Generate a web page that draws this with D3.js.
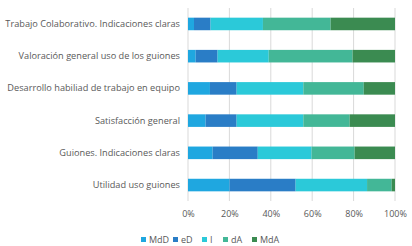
<!DOCTYPE html>
<html>
<head>
<meta charset="utf-8">
<script src="https://cdn.jsdelivr.net/npm/d3@7"></script>
<style>
  body { margin: 0; background: #fff; }
  text { font-family: "Open Sans", sans-serif; fill: #595959; }
</style>
</head>
<body>
<div id="chart"></div>
<script>
// categories, top to bottom
const categories = [
    "Trabajo Colaborativo. Indicaciones claras",
    "Valoración general uso de los guiones",
    "Desarrollo habiliad de trabajo en equipo",
    "Satisfacción general",
    "Guiones. Indicaciones claras",
    "Utilidad uso guiones"
];
const seriesNames = ["MdD", "eD", "I", "dA", "MdA"];
const seriesColors = ["#1fa7e0", "#2a7dc6", "#2bc9d9", "#43b797", "#3b8b51"];

// percent values per series (same order as categories)
const MdD = [2.9, 3.7, 10.6, 8.5, 11.9, 20.1];
const eD  = [8.0, 10.6, 12.9, 15.0, 21.8, 31.9];
const I   = [25.3, 24.7, 32.2, 32.2, 26.0, 34.5];
const dA  = [32.7, 40.5, 29.2, 22.4, 20.8, 11.9];
const MdA = [31.1, 20.5, 15.1, 21.9, 19.5, 1.6];
const xTicks = [0, 0.2, 0.4, 0.6, 0.8, 1];

const width = 412, height = 246;
const margin = {top: 8, right: 17, bottom: 45, left: 188};

const svg = d3.select("#chart").append("svg")
    .attr("width", width)
    .attr("height", height);

const table = categories.map((c, i) => ({
    cat: c, MdD: MdD[i], eD: eD[i], I: I[i], dA: dA[i], MdA: MdA[i]
}));
table.forEach(d => {
    let total = d3.sum(seriesNames, k => d[k]);
    seriesNames.forEach(k => d[k] = d[k] / total);
});

let x = d3.scaleLinear()
    .domain([0, 1])
    .range([margin.left, width - margin.right]);

let y = d3.scaleBand()
    .domain(categories)
    .range([margin.top, height - margin.bottom])
    .paddingInner(0.61)
    .paddingOuter(0.3);

// gridlines
svg.append("g")
    .selectAll("line")
    .data(xTicks)
    .enter().append("line")
    .attr("x1", d => x(d)).attr("x2", d => x(d))
    .attr("y1", margin.top).attr("y2", height - margin.bottom)
    .attr("stroke", "#d9d9d9")
    .attr("stroke-width", 1);

let stack = d3.stack().keys(seriesNames)(table);

svg.append("g")
    .selectAll("g")
    .data(stack)
    .enter().append("g")
    .attr("fill", (d, i) => seriesColors[i])
    .selectAll("rect")
    .data(d => d)
    .enter().append("rect")
    .attr("x", d => x(d[0]))
    .attr("width", d => x(d[1]) - x(d[0]))
    .attr("y", d => y(d.data.cat))
    .attr("height", y.bandwidth());

// x axis
let xAxis = svg.append("g")
    .attr("transform", `translate(0, ${height - margin.bottom + 4})`)
    .call(d3.axisBottom(x).tickValues(xTicks).tickFormat(d3.format(".0%")).tickSize(0).tickPadding(6));
xAxis.select(".domain").remove();
xAxis.selectAll("text").style("font-size", "9px").attr("fill", "#595959");

// y axis labels
let yAxis = svg.append("g")
    .attr("transform", `translate(${margin.left}, 0)`)
    .call(d3.axisLeft(y).tickSize(0).tickPadding(8));
yAxis.select(".domain").remove();
yAxis.selectAll("text").style("font-size", "9.2px").attr("fill", "#595959");

// legend
const legendX = [141, 173, 202, 223, 252];
let legend = svg.append("g")
    .selectAll("g")
    .data(seriesNames)
    .enter().append("g")
    .attr("transform", (d, i) => `translate(${legendX[i]}, 240)`);
legend.append("rect")
    .attr("x", 0).attr("y", -3)
    .attr("width", 5).attr("height", 5)
    .attr("fill", (d, i) => seriesColors[i]);
legend.append("text")
    .attr("x", 8).attr("dy", "0.35em")
    .style("font-size", "9px")
    .text(d => d);
</script>
</body>
</html>
